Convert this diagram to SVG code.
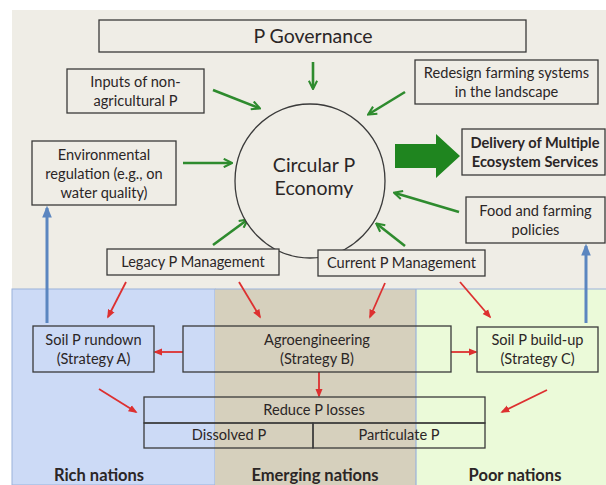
<svg xmlns="http://www.w3.org/2000/svg" width="606" height="485" viewBox="0 0 606 485">
<defs>
<style>
.box{fill:#efede6;stroke:#3a3a3a;stroke-width:1.3}
.tbox{fill:none;stroke:#3a3a3a;stroke-width:1.3}
text{font-family:Lato,"Open Sans","Liberation Sans",sans-serif;fill:#2b2626;text-anchor:middle}
.t{font-size:14.6px}
.b{font-size:16.5px;font-weight:bold}
.d{font-size:14.6px;font-weight:bold}
.g{stroke:#2e8b2e;stroke-width:2.6;fill:none;marker-end:url(#ga)}
.r{stroke:#dd3030;stroke-width:1.8;fill:none;marker-end:url(#ra)}
.bl{stroke:#5b86c0;stroke-width:3;fill:none;marker-end:url(#ba)}
</style>
<marker id="ga" viewBox="0 0 10 10" refX="8" refY="5" markerWidth="4" markerHeight="4" orient="auto" markerUnits="strokeWidth"><path d="M1,1 L9,5 L1,9" fill="none" stroke="#2e8b2e" stroke-width="2"/></marker>
<marker id="ra" viewBox="0 0 10 10" refX="8" refY="5" markerWidth="5" markerHeight="5" orient="auto" markerUnits="strokeWidth"><path d="M0,1 L10,5 L0,9 Z" fill="#dd3030"/></marker>
<marker id="ba" viewBox="0 0 10 10" refX="8" refY="5" markerWidth="4" markerHeight="4" orient="auto" markerUnits="strokeWidth"><path d="M0,1 L10,5 L0,9 Z" fill="#5b86c0"/></marker>
</defs>
<rect x="0" y="0" width="606" height="485" fill="#ffffff"/>
<rect x="12" y="10" width="594" height="475" fill="#efede6"/>
<g id="zones">
<rect x="12" y="289" width="203" height="196" fill="#ccdaf6" stroke="#9ab2da" stroke-width="1"/>
<rect x="215" y="289" width="201" height="196" fill="#d6d0bd"/>
<rect x="416" y="289" width="190" height="196" fill="#ebfad9"/>
<line x1="416" y1="289" x2="416" y2="485" stroke="#9ab2da" stroke-width="1.2"/>
<line x1="215" y1="289" x2="606" y2="289" stroke="#9ab2da" stroke-width="1"/>
<text class="b" x="99" y="481">Rich nations</text>
<text class="b" x="315" y="481">Emerging nations</text>
<text class="b" x="515" y="481">Poor nations</text>
</g>
<g id="connectors">
<line class="g" x1="313" y1="62" x2="313" y2="88"/>
<line class="g" x1="213" y1="90" x2="259" y2="108"/>
<line class="g" x1="183" y1="163" x2="231" y2="163"/>
<line class="g" x1="213" y1="245" x2="247" y2="220"/>
<line class="g" x1="405" y1="92" x2="369" y2="114"/>
<line class="g" x1="459" y1="212" x2="395" y2="193"/>
<line class="g" x1="405" y1="246" x2="377" y2="224"/>
<path d="M395,144 L436,144 L436,134 L460,156 L436,178 L436,168 L395,168 Z" fill="#1f851f"/>
<line class="bl" x1="47" y1="323" x2="47" y2="208"/>
<line class="bl" x1="586" y1="323" x2="586" y2="246"/>
<line class="r" x1="126" y1="282" x2="108" y2="317"/>
<line class="r" x1="239" y1="282" x2="260" y2="317"/>
<line class="r" x1="385" y1="283" x2="370" y2="317"/>
<line class="r" x1="460" y1="282" x2="490" y2="317"/>
<line class="r" x1="183" y1="352" x2="155" y2="352"/>
<line class="r" x1="451" y1="352" x2="476" y2="352"/>
<line class="r" x1="319" y1="372" x2="319" y2="396"/>
<line class="r" x1="99" y1="389" x2="136" y2="412"/>
<line class="r" x1="547" y1="390" x2="502" y2="412"/>
</g>
<g id="governance">
<rect class="box" x="99" y="20" width="427" height="32"/>
<text x="313" y="43" font-size="19.5">P Governance</text>
</g>
<g id="inputs">
<rect class="box" x="67" y="69" width="137" height="44"/>
<text class="t" x="135.5" y="87">Inputs of non-</text>
<text class="t" x="135.5" y="106">agricultural P</text>
</g>
<g id="envreg">
<rect class="box" x="32" y="141" width="144" height="64"/>
<text class="t" x="104" y="160">Environmental</text>
<text class="t" x="104" y="179">regulation (e.g., on</text>
<text class="t" x="104" y="198">water quality)</text>
</g>
<g id="circular">
<ellipse cx="310" cy="181" rx="75" ry="77" fill="#efede6" stroke="#3a3a3a" stroke-width="1.3"/>
<text x="314" y="172" font-size="19.5">Circular P</text>
<text x="314" y="195" font-size="19.5">Economy</text>
</g>
<g id="redesign">
<rect class="box" x="415" y="60" width="183" height="44"/>
<text class="t" x="506.5" y="78">Redesign farming systems</text>
<text class="t" x="506.5" y="97">in the landscape</text>
</g>
<g id="delivery">
<rect class="box" x="462" y="129" width="143" height="46"/>
<text class="d" x="535" y="148">Delivery of Multiple</text>
<text class="d" x="535" y="167">Ecosystem Services</text>
</g>
<g id="food">
<rect class="box" x="466" y="197" width="139" height="46"/>
<text class="t" x="535.5" y="216">Food and farming</text>
<text class="t" x="535.5" y="235">policies</text>
</g>
<g id="legacy">
<rect class="box" x="107" y="249" width="172" height="26"/>
<text class="t" x="193" y="267">Legacy P Management</text>
</g>
<g id="current">
<rect class="box" x="318" y="250" width="167" height="26"/>
<text class="t" x="401.5" y="268">Current P Management</text>
</g>
<g id="soilA">
<rect class="tbox" x="33" y="326" width="121" height="46"/>
<text class="t" x="93.5" y="345">Soil P rundown</text>
<text class="t" x="93.5" y="364">(Strategy A)</text>
</g>
<g id="agro">
<rect class="tbox" x="183" y="326" width="268" height="46"/>
<text class="t" x="317" y="345">Agroengineering</text>
<text class="t" x="317" y="364">(Strategy B)</text>
</g>
<g id="soilC">
<rect class="tbox" x="477" y="327" width="121" height="45"/>
<text class="t" x="537.5" y="345">Soil P build-up</text>
<text class="t" x="537.5" y="364">(Strategy C)</text>
</g>
<g id="reduce">
<rect class="tbox" x="144" y="397" width="341" height="26"/>
<text class="t" x="314" y="415">Reduce P losses</text>
<rect class="tbox" x="144" y="423" width="169" height="25"/>
<rect class="tbox" x="313" y="423" width="172" height="25"/>
<text class="t" x="229" y="440">Dissolved P</text>
<text class="t" x="399" y="440">Particulate P</text>
</g>
</svg>
